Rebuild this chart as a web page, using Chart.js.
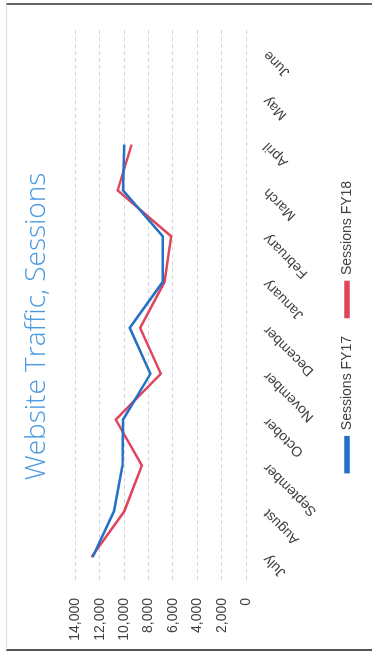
<!DOCTYPE html>
<html>
<head>
<meta charset="utf-8">
<script src="https://cdn.jsdelivr.net/npm/chart.js@4.4.1/dist/chart.umd.min.js"></script>
<style>
  html, body { margin: 0; padding: 0; background: #fff; overflow: hidden; }
  #wrap {
    position: absolute; left: 0; top: 0;
    width: 656px; height: 372px; overflow: hidden;
    transform-origin: 0 0;
    transform: translate(0, 656px) rotate(-90deg);
  }
  #frame {
    position: absolute; left: 5px; top: 6px; width: 644px; height: 420px;
    border-left: 2px solid #555; border-right: 2px solid #666; border-top: 1px solid #ddd;
  }
  #myChart { position: absolute; left: 0; top: 0; }
</style>
</head>
<body>
<div id="wrap">
  <div id="frame"></div>
  <canvas id="myChart" width="656" height="372"></canvas>
</div>
<script>
// data (it is printed rotated, so the page turns it back)
var months = ['July', 'August', 'September', 'October', 'November', 'December',
              'January', 'February', 'March', 'April', 'May', 'June'];
var sessionsFY17 = [12600, 10850, 10150, 10100, 7850, 9550, 6850, 6850, 10100, 10000, null, null];
var sessionsFY18 = [12700, 10000, 8550, 10700, 7000, 8700, 6700, 6150, 10550, 9400, null, null];
var yTicks = [0, 2000, 4000, 6000, 8000, 10000, 12000, 14000];

Chart.defaults.font.family = "'Liberation Sans', Arial, sans-serif";
Chart.defaults.color = '#404040';

var ctx = document.getElementById('myChart').getContext('2d');
var chart = new Chart(ctx, {
  type: 'line',
  data: {
    labels: months,
    datasets: [
      {
        label: 'Sessions FY17',
        data: sessionsFY17,
        borderColor: '#2470c6',
        backgroundColor: '#2470c6',
        borderWidth: 2.5,
        pointRadius: 0,
        tension: 0
      },
      {
        label: 'Sessions FY18',
        data: sessionsFY18,
        borderColor: '#e0455e',
        backgroundColor: '#e0455e',
        borderWidth: 2.5,
        pointRadius: 0,
        tension: 0
      }
    ]
  },
  options: {
    responsive: false,
    animation: false,
    devicePixelRatio: 1,
    layout: { padding: { top: 10, left: 14, right: 11, bottom: 8 } },
    plugins: {
      title: {
        display: true,
        text: 'Website Traffic, Sessions',
        color: '#4a9ae0',
        font: { family: "'Open Sans', Lato, sans-serif", size: 28, weight: '300' },
        padding: { top: 10, bottom: 22 }
      },
      legend: {
        position: 'bottom',
        labels: {
          boxWidth: 35,
          boxHeight: 3,
          padding: 19,
          font: { size: 14 },
          color: '#404040'
        }
      },
      tooltip: { enabled: false }
    },
    scales: {
      x: {
        offset: true,
        grid: { display: false },
        border: { display: false },
        ticks: { autoSkip: false, minRotation: 45, maxRotation: 45, font: { size: 14 }, padding: 6 },
        afterFit: function (axis) {
          // keep the plot as wide as the scan, rotated labels stay inside anyway
          axis.paddingLeft = 0;
          axis.paddingRight = 0;
          axis.height = 75;
        }
      },
      y: {
        min: 0,
        max: 14000,
        afterBuildTicks: function (axis) {
          axis.ticks = yTicks.map(function (v) { return { value: v }; });
        },
        afterFit: function (axis) {
          axis.width = 62;
        },
        grid: { color: '#d6d6d6', drawTicks: false },
        border: { display: false, dash: [4, 3] },
        ticks: {
          font: { size: 14 },
          padding: 18,
          callback: function (v) { return v.toLocaleString('en-US'); }
        }
      },
      // empty spacer on the far side so the plot ends where the scan's does
      spacer: {
        type: 'linear',
        position: 'right',
        grid: { display: false },
        border: { display: false },
        ticks: { display: false },
        afterFit: function (axis) {
          axis.width = 19;
        }
      }
    }
  }
});
</script>
</body>
</html>
